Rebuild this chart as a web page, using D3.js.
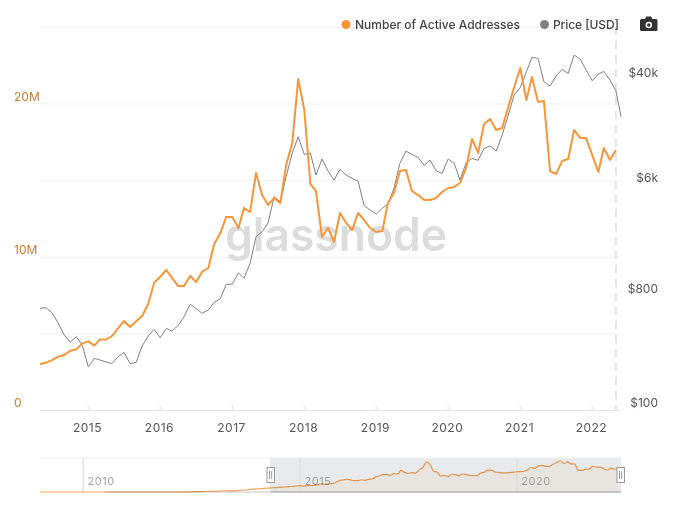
<!DOCTYPE html>
<html>
<head>
<meta charset="utf-8">
<script src="https://cdn.jsdelivr.net/npm/d3@7"></script>
<style>
    html, body { margin: 0; padding: 0; background: #fff; }
    svg { display: block; }
    text { font-family: Inter, "Noto Sans", sans-serif; }
    .domain { display: none; }
</style>
</head>
<body>
<svg id="chart" width="673" height="505"></svg>
<script>
// 每月数据，从 2014-05 开始
const addresses = [
    3.00, 3.09, 3.26, 3.48, 3.59, 3.87, 3.96, 4.35, 4.48, 4.20, 4.61, 4.59,
    4.83, 5.33, 5.81, 5.42, 5.79, 6.14, 6.92, 8.31, 8.70, 9.14, 8.62, 8.09,
    8.09, 8.75, 8.36, 9.03, 9.27, 10.84, 11.55, 12.60, 12.60, 11.88, 13.19, 12.92,
    15.47, 14.03, 13.38, 13.84, 13.51, 15.99, 17.43, 21.61, 19.58, 14.75, 14.30, 11.29,
    11.88, 10.97, 12.86, 12.21, 11.75, 12.86, 12.40, 11.88, 11.62, 11.68, 13.51, 14.16,
    15.60, 15.67, 14.30, 14.03, 13.71, 13.71, 13.84, 14.23, 14.49, 14.56, 14.82, 15.80,
    17.69, 16.78, 18.67, 18.99, 18.28, 18.41, 19.78, 21.08, 22.32, 20.23, 21.74, 20.10,
    20.17, 15.60, 15.40, 16.25, 16.38, 18.28, 17.75, 17.75, 16.64, 15.54, 17.10, 16.32,
    16.97
];
const price = [
    633, 640, 584, 485, 390, 342, 378, 325, 219, 255, 248, 239,
    232, 263, 285, 232, 238, 319, 383, 432, 371, 440, 419, 465,
    543, 681, 629, 578, 614, 706, 754, 978, 983, 1208, 1091, 1432,
    2322, 2541, 2976, 4797, 4381, 6893, 10605, 14246, 10355, 10605, 7110, 9510,
    7693, 6490, 7891, 7110, 6694, 6378, 4074, 3770, 3504, 3886, 4202, 5587,
    8794, 10989, 10355, 9805, 8480, 9338, 7693, 7334, 9510, 8794, 6490, 8890,
    9626, 9286, 11546, 12038, 10989, 14694, 21133, 30362, 34918, 46336, 60211, 59136,
    38630, 35763, 42854, 48410, 45005, 62771, 58317, 47795, 39373, 44442, 46669, 39859,
    32845, 20480
];
// 缩略图里 2014 年之前的部分
const earlyDates = ["2009-01-03", "2012-03-01", "2012-09-01", "2013-04-01", "2013-06-01", "2013-08-01", "2013-12-01", "2014-03-01"];
const earlyAddresses = [0, 0, 0.2, 0.9, 0.8, 1.1, 2.0, 2.6];

const yearTicks = [2015, 2016, 2017, 2018, 2019, 2020, 2021, 2022];
const overviewYears = [2010, 2015, 2020];
const addressTicks = [0, 5, 10, 15, 20, 25];
const addressLabels = { 0: "0", 10: "10M", 20: "20M" };
const priceTicks = [100, 800, 6000, 40000];
const priceLabels = { 100: "$100", 800: "$800", 6000: "$6k", 40000: "$40k" };

const ORANGE = "#f7953a";
const GREY = "#808080";

const plotLeft = 40, plotRight = 621, plotTop = 27, plotBottom = 410;

const months = d3.utcMonth.range(new Date(Date.UTC(2014, 4, 1)), new Date(Date.UTC(2022, 5, 1)));
const lastDate = new Date(Date.UTC(2022, 4, 27));
const priceDates = months.concat([lastDate]);

const svg = d3.select("#chart");

// 主图比例尺
const x = d3.scaleUtc().domain([months[0], lastDate]).range([plotLeft, plotRight]);
const yAddr = d3.scaleLinear().domain([0, 25]).range([plotBottom, plotTop]);
const yPrice = d3.scaleLog().base(2).domain([100, 104500]).range([plotBottom, plotTop]);

// 网格线，画在左轴上
const gridAxis = svg.append("g")
    .attr("transform", `translate(${plotLeft},0)`)
    .call(d3.axisLeft(yAddr).tickValues(addressTicks).tickSize(-(plotRight - plotLeft)).tickFormat(""));
gridAxis.selectAll("line").attr("stroke", "#eeeeee");
gridAxis.selectAll("g.tick").filter(d => d === 0).select("line").attr("stroke", "#e3e3e3");

// 水印
svg.append("text")
    .attr("x", 336).attr("y", 251)
    .attr("text-anchor", "middle")
    .attr("font-size", 46)
    .attr("font-weight", 600)
    .attr("textLength", 222)
    .attr("lengthAdjust", "spacingAndGlyphs")
    .attr("fill", "#dcdcdc")
    .text("glassnode");

// X 轴
const xAxis = svg.append("g")
    .attr("transform", `translate(0,${plotBottom})`)
    .call(d3.axisBottom(x)
        .tickValues(yearTicks.map(y => new Date(Date.UTC(y, 0, 1))))
        .offset(0)
        .tickSize(-5).tickPadding(13)
        .tickFormat(d3.utcFormat("%Y")));
xAxis.selectAll("line").attr("stroke", "#e3e3e3");
xAxis.selectAll("text")
    .attr("dx", -0.8)
    .attr("fill", "#555")
    .attr("font-size", 12)
    .attr("letter-spacing", "0.5px")
    .attr("font-family", "Inter, sans-serif");

// 左右 Y 轴标签
const addrAxis = svg.append("g")
    .attr("transform", "translate(14,-7)")
    .call(d3.axisRight(yAddr)
        .tickValues(Object.keys(addressLabels).map(Number))
        .tickSize(0).tickPadding(0)
        .tickFormat(d => addressLabels[d]));
addrAxis.selectAll("text")
    .attr("fill", "#c97b30")
    .attr("font-size", 12)
    .attr("font-family", "Inter, sans-serif");

const priceAxis = svg.append("g")
    .attr("transform", "translate(658,-7)")
    .call(d3.axisLeft(yPrice)
        .tickValues(priceTicks)
        .tickSize(0).tickPadding(0)
        .tickFormat(d => priceLabels[d]));
priceAxis.selectAll("text")
    .attr("fill", "#555")
    .attr("font-size", 12)
    .attr("font-family", "Inter, sans-serif");

// 当前时间的虚线
svg.append("line")
    .attr("x1", x(months[months.length - 1])).attr("x2", x(months[months.length - 1]))
    .attr("y1", plotTop).attr("y2", plotBottom)
    .attr("stroke", "#e2e2e2")
    .attr("stroke-width", 2)
    .attr("stroke-dasharray", "8,6");

// 两条折线
const priceLine = d3.line().x((d, i) => x(priceDates[i])).y(d => yPrice(d));
const addrLine = d3.line().x((d, i) => x(months[i])).y(d => yAddr(d));

svg.append("path").datum(price)
    .attr("d", priceLine)
    .attr("fill", "none")
    .attr("stroke", GREY)
    .attr("stroke-width", 1);
svg.append("path").datum(addresses)
    .attr("d", addrLine)
    .attr("fill", "none")
    .attr("stroke", ORANGE)
    .attr("stroke-width", 2)
    .attr("stroke-linejoin", "round");

// 图例
const legend = svg.append("g");
legend.append("circle").attr("cx", 346).attr("cy", 24.5).attr("r", 4.5).attr("fill", ORANGE);
legend.append("text").attr("x", 355).attr("y", 29)
    .attr("font-size", 12).attr("font-weight", 500).attr("fill", "#444")
    .attr("textLength", 165)
    .text("Number of Active Addresses");
legend.append("circle").attr("cx", 544.5).attr("cy", 24.5).attr("r", 4.5).attr("fill", GREY);
legend.append("text").attr("x", 553).attr("y", 29)
    .attr("font-size", 12).attr("font-weight", 500).attr("fill", "#444")
    .attr("textLength", 66)
    .text("Price [USD]");

// 相机图标
const cam = svg.append("g").attr("transform", "translate(640,16)");
cam.append("path")
    .attr("d", "M1.5 3 H5 L6.3 0.5 H11.2 L12.5 3 H16 Q17.5 3 17.5 4.5 V13.5 Q17.5 15 16 15 H1.5 Q0 15 0 13.5 V4.5 Q0 3 1.5 3 Z")
    .attr("fill", "#333");
cam.append("circle").attr("cx", 8.8).attr("cy", 9).attr("r", 2.5)
    .attr("fill", "none").attr("stroke", "#fff").attr("stroke-width", 1.5);

// 缩略图
const navTop = 458, navBottom = 492;
const xNav = d3.scaleUtc()
    .domain([new Date(Date.UTC(2009, 0, 3)), lastDate])
    .range([plotLeft, plotRight]);
const yNav = d3.scaleLinear().domain([0, 24.3]).range([navBottom, navTop]);

const navPoints = earlyDates.map((d, i) => [new Date(d + "T00:00:00Z"), earlyAddresses[i]])
    .concat(months.map((d, i) => [d, addresses[i]]));

// 选中区域
svg.append("rect")
    .attr("x", 270).attr("y", navTop)
    .attr("width", plotRight - 270).attr("height", navBottom - navTop)
    .attr("fill", "#e9eaec");
svg.append("path").datum(navPoints.filter(p => xNav(p[0]) >= 268))
    .attr("d", d3.area().x(p => xNav(p[0])).y0(navBottom).y1(p => yNav(p[1])))
    .attr("fill", "#e8e5e0");

svg.append("line")
    .attr("x1", plotLeft).attr("x2", plotRight).attr("y1", navTop).attr("y2", navTop)
    .attr("stroke", "#eeeeee");

const navAxis = svg.append("g")
    .attr("transform", `translate(0,${navBottom})`)
    .call(d3.axisBottom(xNav)
        .tickValues(overviewYears.map(y => new Date(Date.UTC(y, 0, 1))))
        .offset(0)
        .tickSize(-(navBottom - navTop)).tickPadding(0)
        .tickFormat(d3.utcFormat("%Y")));
navAxis.selectAll("line").attr("stroke", "#d8d8d8");
navAxis.selectAll("text")
    .attr("text-anchor", "start")
    .attr("dx", 4.5)
    .attr("y", -7).attr("dy", 0)
    .attr("fill", "#a3a3a3")
    .attr("font-size", 11)
    .attr("letter-spacing", "0.5px")
    .attr("font-family", "Inter, sans-serif");

// 底部基线，橙线压在上面会变深
svg.append("line")
    .attr("x1", 105).attr("x2", 270).attr("y1", navBottom).attr("y2", navBottom)
    .attr("stroke", "#c4c4c4");
svg.append("line")
    .attr("x1", 270).attr("x2", plotRight).attr("y1", navBottom).attr("y2", navBottom)
    .attr("stroke", "#999");
svg.append("path").datum(navPoints)
    .attr("d", d3.line().x(p => xNav(p[0])).y(p => yNav(p[1])).curve(d3.curveMonotoneX))
    .attr("fill", "none")
    .attr("stroke", ORANGE)
    .attr("stroke-opacity", 0.85)
    .attr("stroke-width", 1.2)
    .style("mix-blend-mode", "multiply");

// 拖动手柄
[270.5, 620.5].forEach(cx => {
    const h = svg.append("g").attr("transform", `translate(${cx},475)`);
    h.append("rect").attr("x", -3.5).attr("y", -7.5).attr("width", 7.5).attr("height", 15)
        .attr("fill", "#fff").attr("stroke", "#999");
    [-1, 1.2].forEach(dx => {
        h.append("line").attr("x1", dx).attr("x2", dx).attr("y1", -4).attr("y2", 4)
            .attr("stroke", "#999");
    });
});
</script>
</body>
</html>
